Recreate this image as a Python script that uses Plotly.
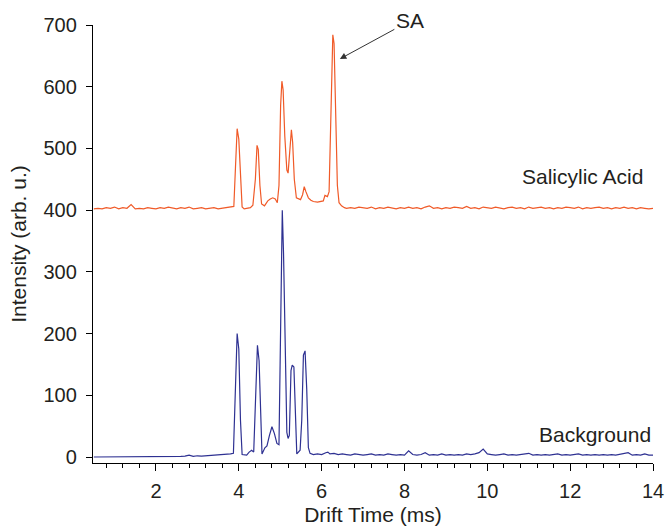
import plotly.graph_objects as go

# ---------------- data ----------------
# Salicylic acid spectrum (offset by ~400)
sa_time = [0.5, 0.6, 0.7, 0.8, 0.9, 1.0, 1.1, 1.2, 1.3, 1.4, 1.5, 1.6, 1.7, 1.8, 1.9, 2.0, 2.1, 2.2,
           2.3, 2.4, 2.5, 2.6, 2.7, 2.8, 2.9, 3.0, 3.1, 3.2, 3.3, 3.4, 3.5, 3.6, 3.7, 3.8, 3.88,
           3.92, 3.96, 4.0, 4.04, 4.08, 4.13, 4.2, 4.28, 4.34, 4.4, 4.44, 4.47, 4.51, 4.55, 4.62,
           4.7, 4.76, 4.82, 4.88, 4.93, 4.97, 5.01, 5.04, 5.07, 5.11, 5.16, 5.19, 5.23, 5.27, 5.3,
           5.34, 5.39, 5.44, 5.49, 5.54, 5.58, 5.62, 5.68, 5.74, 5.8, 5.9, 5.98, 6.04, 6.08, 6.14,
           6.18, 6.22, 6.27, 6.3, 6.34, 6.38, 6.42, 6.48, 6.55, 6.6,
           6.7, 6.8, 6.9, 7.0, 7.1, 7.2, 7.3, 7.4, 7.5, 7.6, 7.7, 7.8, 7.9, 8.0, 8.1, 8.2, 8.3, 8.4,
           8.5, 8.6, 8.7, 8.8, 8.9, 9.0, 9.1, 9.2, 9.3, 9.4, 9.5, 9.6, 9.7, 9.8, 9.9, 10.0, 10.1,
           10.2, 10.3, 10.4, 10.5, 10.6, 10.7, 10.8, 10.9, 11.0, 11.1, 11.2, 11.3, 11.4, 11.5, 11.6,
           11.7, 11.8, 11.9, 12.0, 12.1, 12.2, 12.3, 12.4, 12.5, 12.6, 12.7, 12.8, 12.9, 13.0, 13.1,
           13.2, 13.3, 13.4, 13.5, 13.6, 13.7, 13.8, 13.9, 14.0]
sa_intensity = [402, 403, 402, 404, 403, 405, 402, 404, 403, 409, 402, 403, 402, 404, 403, 402, 404, 403,
                405, 403, 402, 404, 403, 405, 402, 403, 404, 402, 403, 404, 402, 403, 404, 405, 406,
                470, 532, 515, 460, 405, 402, 403, 404, 408, 450, 505, 498, 440, 410, 407,
                415, 418, 420, 418, 412, 440, 570, 609, 595, 520, 465, 460, 495, 530, 510,
                450, 420, 418, 417, 425, 438, 430, 420, 416, 414, 413, 414, 415, 424, 422,
                430, 540, 684, 670, 560, 440, 412, 407, 404, 403,
                404, 403, 405, 404, 403, 405, 402, 404, 403, 405, 404, 402, 404, 403, 405, 403, 404, 402,
                405, 407, 403, 404, 402, 404, 403, 405, 404, 403, 406, 403, 404, 402, 405, 404, 403,
                405, 404, 402, 404, 405, 403, 404, 402, 405, 403, 404, 405, 403, 404, 402,
                404, 403, 405, 404, 403, 405, 402, 404, 403, 404, 405, 403, 404, 402, 404,
                403, 405, 403, 404, 402, 404, 403, 402, 403]

# Background spectrum
bg_time = [0.5, 0.6, 0.7, 0.8, 0.9, 1.0, 1.1, 1.2, 1.3, 1.4, 1.5, 1.6, 1.7, 1.8, 1.9, 2.0, 2.1, 2.2,
           2.3, 2.4, 2.5, 2.6, 2.7, 2.8, 2.9, 3.0, 3.1, 3.2, 3.3, 3.4, 3.5, 3.6, 3.7, 3.8,
           3.87, 3.92, 3.96, 4.0, 4.04, 4.08, 4.13, 4.19, 4.25, 4.31, 4.36, 4.41, 4.45, 4.49, 4.53,
           4.56, 4.63, 4.68, 4.74, 4.8, 4.86, 4.92, 4.97, 5.01, 5.05, 5.08, 5.12, 5.16, 5.19, 5.22,
           5.26, 5.29, 5.33, 5.37, 5.4, 5.48, 5.52, 5.56, 5.6, 5.64, 5.68, 5.72, 5.8, 5.9, 6.0, 6.1,
           6.15, 6.2, 6.3, 6.4,
           6.5, 6.6, 6.7, 6.8, 6.9, 7.0, 7.1, 7.2, 7.3, 7.4, 7.5, 7.6, 7.7, 7.8, 7.9, 8.0, 8.1, 8.2,
           8.3, 8.4, 8.5, 8.6, 8.7, 8.8, 8.9, 9.0, 9.1, 9.2, 9.3, 9.4, 9.5, 9.6, 9.7, 9.8, 9.9, 10.0,
           10.1, 10.2, 10.3, 10.4, 10.5, 10.6, 10.7, 10.8, 10.9, 11.0, 11.1, 11.2, 11.3, 11.4, 11.5,
           11.6, 11.7, 11.8, 11.9, 12.0, 12.1, 12.2, 12.3, 12.4, 12.5, 12.6, 12.7, 12.8, 12.9, 13.0,
           13.1, 13.2, 13.3, 13.4, 13.5, 13.6, 13.7, 13.8, 13.9, 14.0]
bg_intensity = [0, 0, 0, 0, 0, 0, 0, 0, 0, 0, 0, 0, 0, 0, 0, 0, 0, 0,
                0.3, 1, 0.5, 1, 1.5, 3, 1, 2, 1.5, 2, 2.5, 2, 3, 3.5, 4, 5,
                6, 120, 200, 175, 60, 4, 3, 3, 8, 11, 8, 120, 181, 156, 40,
                5, 15, 18, 35, 49, 38, 22, 20, 250, 400, 330, 150, 40, 30, 35,
                140, 149, 146, 50, 5, 11, 60, 165, 172, 110, 15, 6, 4, 5, 4, 7,
                8, 5, 6, 4,
                5, 4, 3, 5, 4, 3, 4, 5, 3, 4, 3, 5, 4, 3, 4, 3, 10, 4,
                3, 4, 7, 3, 4, 3, 5, 3, 4, 3, 4, 3, 5, 4, 5, 7, 13, 5,
                4, 3, 4, 5, 3, 4, 3, 4, 5, 6, 3, 4, 3, 4, 3,
                4, 5, 3, 4, 3, 4, 5, 3, 4, 3, 4, 3, 4, 3, 4,
                3, 4, 5, 7, 3, 4, 3, 5, 3, 3]

x_tick_vals = [2, 4, 6, 8, 10, 12, 14]
y_tick_vals = [0, 100, 200, 300, 400, 500, 600, 700]

FONT = "Liberation Sans, Arial, Helvetica, sans-serif"
TXT = "#231f20"

fig = go.Figure()
fig.add_trace(go.Scatter(x=sa_time, y=sa_intensity, mode="lines",
                         line=dict(color="#f05a28", width=1.2), name="Salicylic Acid"))
fig.add_trace(go.Scatter(x=bg_time, y=bg_intensity, mode="lines",
                         line=dict(color="#2e3192", width=1.2), name="Background"))

fig.update_layout(
    width=665, height=526,
    margin=dict(l=93, r=12, t=25, b=63),
    paper_bgcolor="white", plot_bgcolor="white",
    showlegend=False,
    font=dict(family=FONT, size=20, color=TXT),
    xaxis=dict(range=[0.48, 14.0], tickvals=x_tick_vals, ticks="outside", ticklen=7,
               tickwidth=1.2, tickcolor="black", showline=True, linecolor="black", linewidth=1.3,
               showgrid=False, zeroline=False, tickfont=dict(size=20, color=TXT),
               ticklabelstandoff=3,
               minor=dict(dtick=0.4, tick0=0, ticks="outside", ticklen=4, tickwidth=1.2,
                          tickcolor="black", showgrid=False),
               title=dict(text="Drift Time (ms)", font=dict(size=21, color=TXT), standoff=10),
               automargin=False),
    yaxis=dict(range=[-9.7, 700], tickvals=y_tick_vals, ticks="outside", ticklen=6,
               tickwidth=1.2, tickcolor="black", showline=True, linecolor="black", linewidth=1.3,
               showgrid=False, zeroline=False, tickfont=dict(size=20, color=TXT),
               ticklabelstandoff=5,
               title=dict(text="Intensity (arb. u.)", font=dict(size=21, color=TXT), standoff=11),
               automargin=False),
    annotations=[
        dict(x=6.44, y=645, xref="x", yref="y", text="SA", showarrow=True,
             ax=70, ay=-38, arrowhead=2, arrowsize=1.3, arrowwidth=1, arrowcolor="#333",
             font=dict(size=21, color=TXT)),
        dict(x=12.3, y=455, xref="x", yref="y", text="Salicylic Acid", showarrow=False,
             font=dict(size=21, color=TXT)),
        dict(x=12.6, y=37, xref="x", yref="y", text="Background", showarrow=False,
             font=dict(size=21, color=TXT)),
    ],
)

fig.write_html(
    "out.html",
    config={"displayModeBar": False},
    post_script="document.body.style.margin='0';document.body.style.overflow='hidden';",
)
